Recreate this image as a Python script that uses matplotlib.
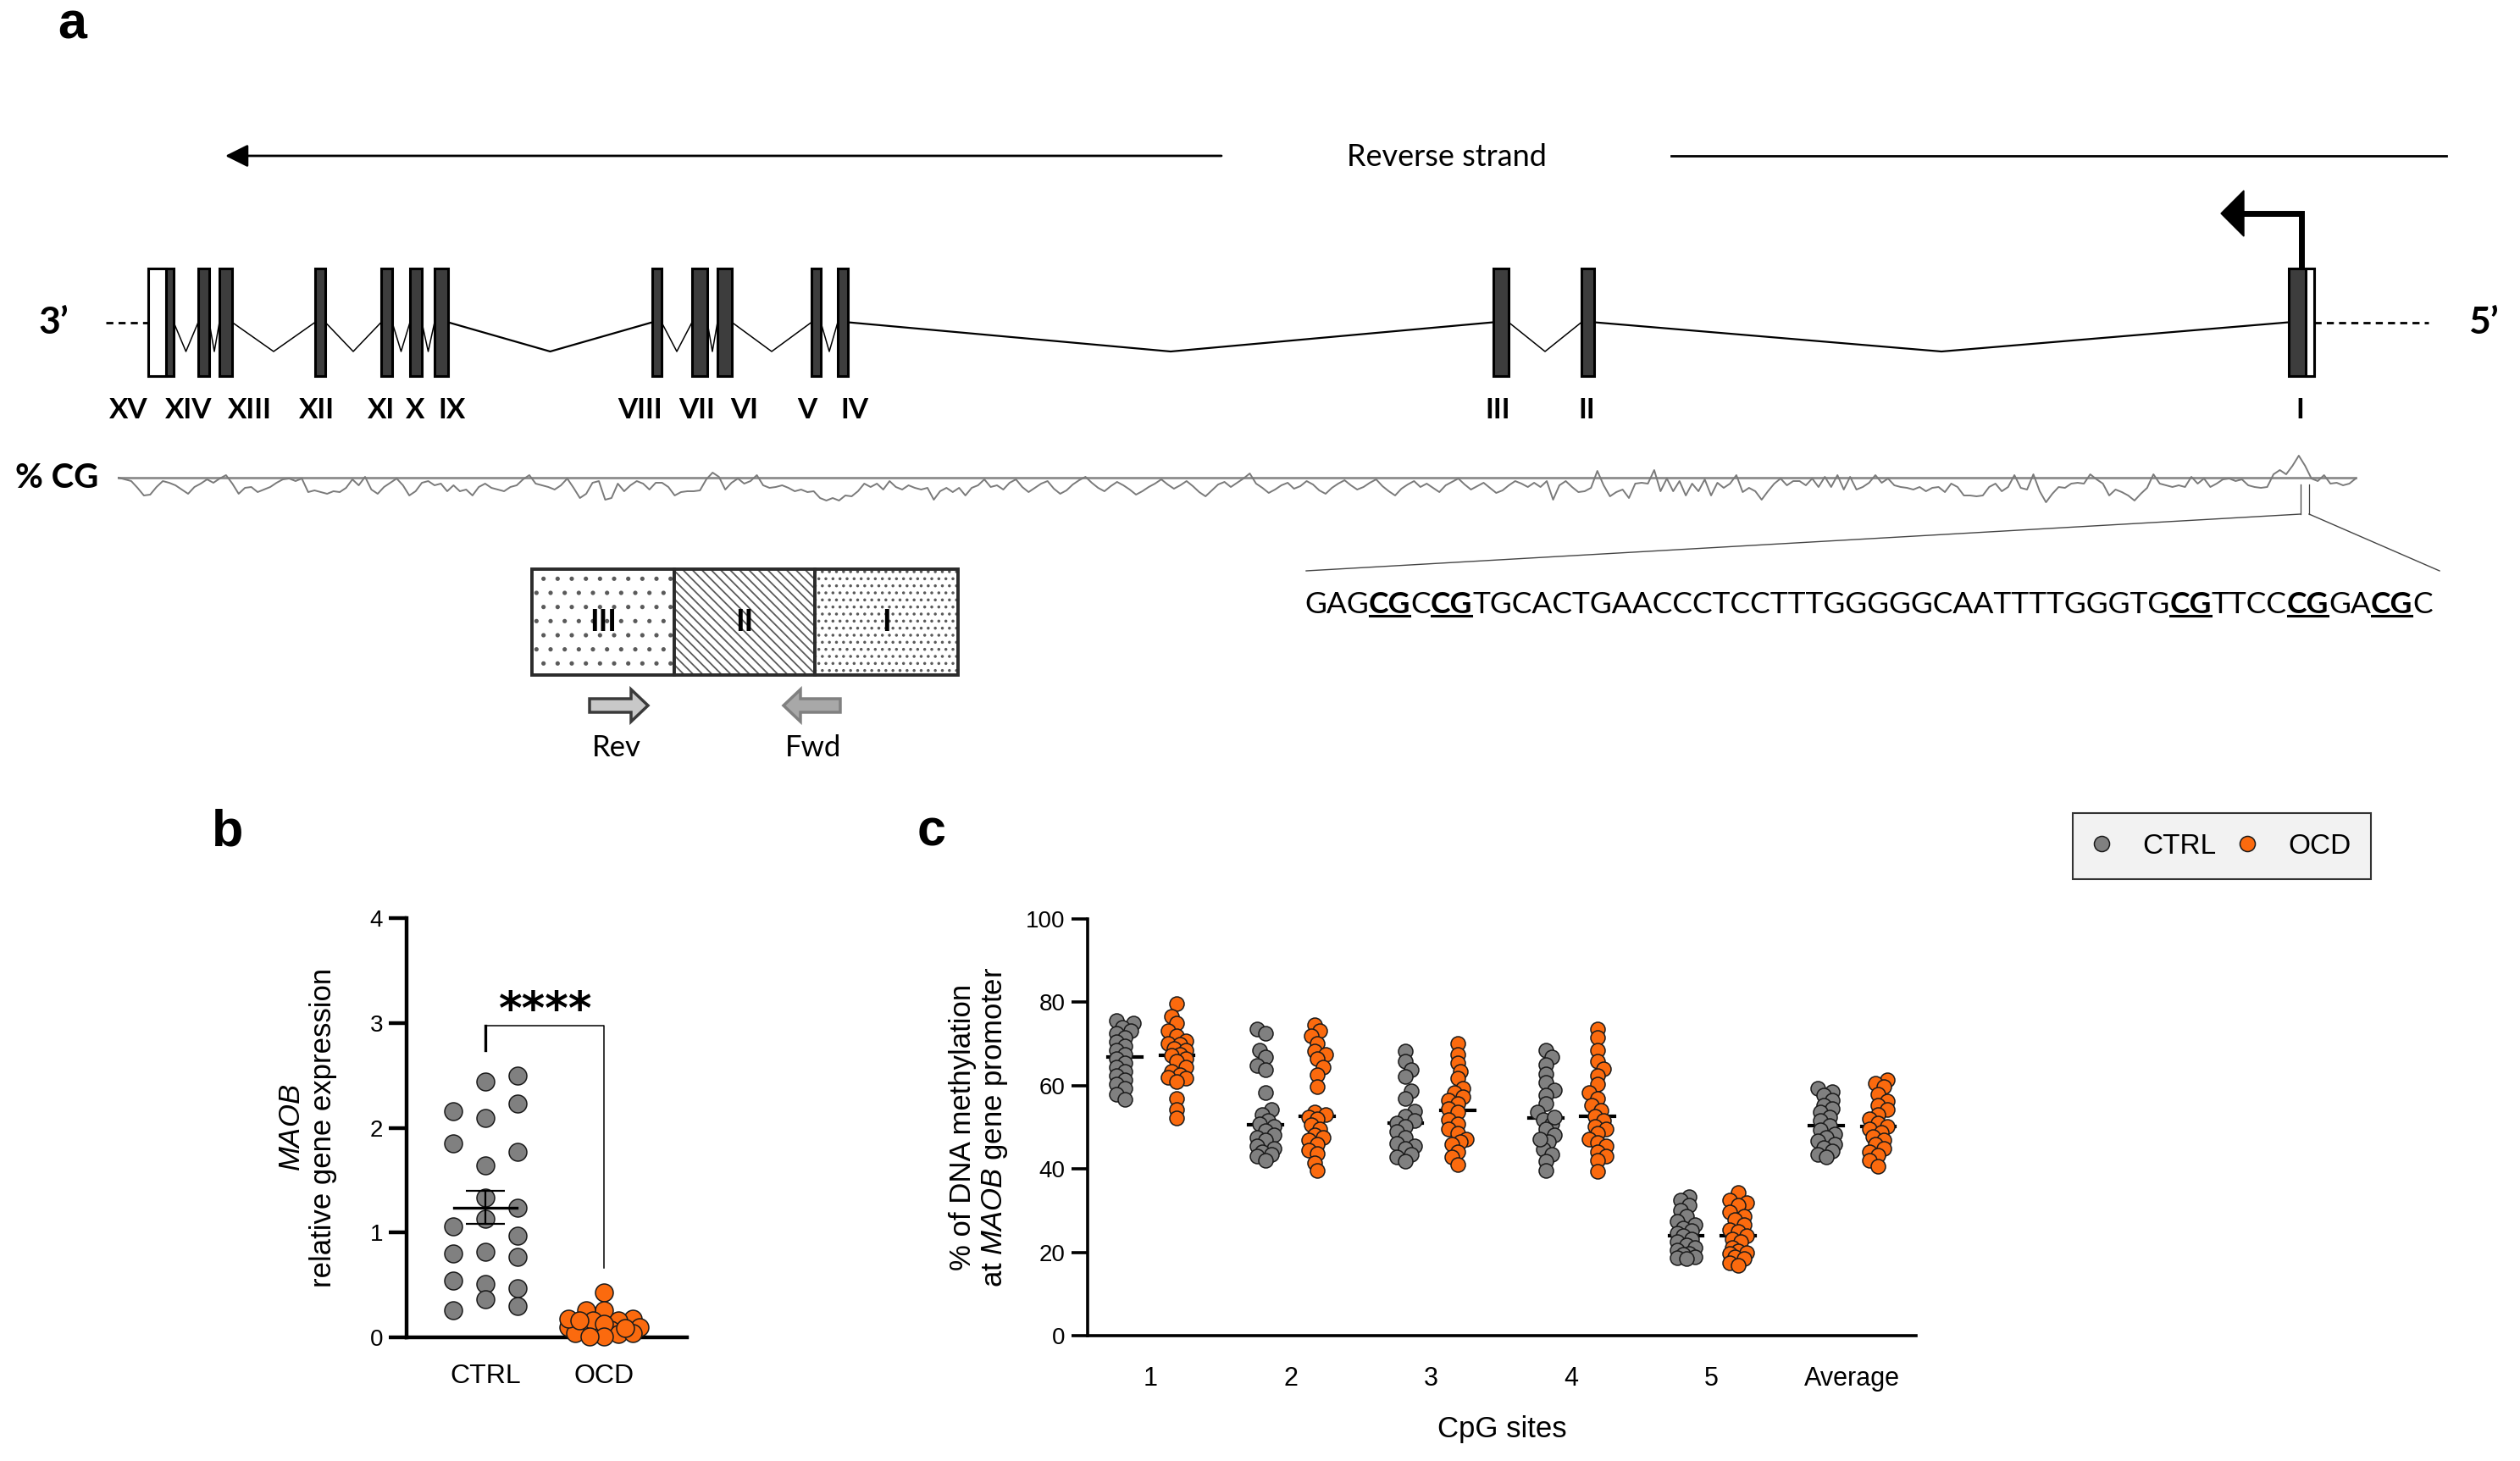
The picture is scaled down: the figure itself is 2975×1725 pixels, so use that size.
import numpy as np
import matplotlib
matplotlib.use("Agg")
import matplotlib.pyplot as plt
from matplotlib.patches import Rectangle, Polygon, FancyArrow
from matplotlib.lines import Line2D
from matplotlib.transforms import IdentityTransform

plt.rcParams["font.family"] = ["Liberation Sans", "DejaVu Sans"]
plt.rcParams["mathtext.fontset"] = "custom"
plt.rcParams["mathtext.rm"] = "Liberation Sans"
plt.rcParams["mathtext.it"] = "Liberation Sans:italic"
plt.rcParams["hatch.linewidth"] = 1.3

NARROW = ["Liberation Sans Narrow", "Lato", "DejaVu Sans"]
HUMAN = ["Lato", "DejaVu Sans"]
GREY = "#808080"
ORANGE = "#fb6a0e"

# ---------------- data ----------------
# gene model (diagram units along the reverse strand, 3' -> 5')
exon_names = ["XV", "XIV", "XIII", "XII", "XI", "X", "IX", "VIII", "VII", "VI",
              "V", "IV", "III", "II", "I"]
exon_left = [175, 234, 259, 372, 450, 484, 513, 770, 817, 847, 958, 989, 1763, 1867, 2702]
exon_right = [205, 247, 274, 384, 463, 498, 529, 781, 835, 864, 969, 1001, 1781, 1882, 2732]
utr_left = [175, 2722]
utr_right = [196, 2732]

# %CG profile, deviation from the track baseline
cg_profile_3p = [0, -2, -4, -12, -21, -20, -11, -4, -6, -9, -14, -19, -11, -7, -2, -6, -1, 3, -7, -19,
                 -12, -11, -17, -14, -11, -6, -2, -1, -4, -1, -17, -15, -17, -19, -16, -17, -12, -2, -9, 1,
                 -14, -19, -11, -6, -1, -9, -21, -16, -6, -4, -9, -7, -16, -9, -16, -14, -21, -11, -7, -12,
                 -14, -16, -11, -9, -2, 3, -7, -9, -11, -14, -9, -1, -12, -24, -19, -6, -4, -26, -24, -7,
                 -16, -9, -4, -7, -14, -6, -6, -11, -21, -17, -16, -16, -15, -2, 6, 1, -14, -6, -1, -7,
                 -4, 3, -9, -12, -11, -9, -12, -16, -14, -17, -16, -24, -27, -24, -27, -21, -22, -16, -7, -11,
                 -7, -14, -4, -11, -14, -9, -12, -14, -12, -26, -16, -12, -17, -12, -21, -12, -9, -2, -11]
cg_profile_mid = [-9, -14, -6, -2, -11, -17, -12, -7, -4, -13, -19, -15, -8, -3, 1, -6, -12, -16, -10, -5,
                  -9, -14, -20, -16, -11, -7, -2, -8, -13, -9, -4, -10, -17, -22, -15, -8, -5, -11, -6, -1,
                  5, -7, -12, -18, -14, -9, -6, -13, -10, -4, -8, -15, -19, -12, -7, -3, -9, -14, -11, -6,
                  -2, -10, -16, -21, -13, -8, -4, -11, -7, -12, -17, -9, -5, -1, -8, -14, -10, -6, -12, -18,
                  -15, -9, -4, -7, -11, -6]
cg_profile_5p = [-11, -4, -26, -9, -4, -11, -17, -16, -12, 8, -9, -22, -17, -14, -24, -7, -6, -7, 9, -16,
                 -1, -16, -4, -21, -7, -16, -2, -21, -6, -12, -7, 3, -17, -12, -16, -26, -16, -7, -1, -9,
                 -4, -4, -9, -1, -11, 1, -11, 3, -14, 1, -14, -11, -6, 3, -6, -1, -9, -11, -12, -14,
                 -11, -16, -12, -11, -17, -7, -11, -21, -21, -22, -21, -11, -7, -16, -11, 3, -12, -14, 4, -16,
                 -29, -19, -11, -12, -7, -6, -7, 4, -2, -7, -21, -14, -17, -21, -27, -19, -12, 4, -7, -9,
                 -11, -9, -11, 1, -7, -1, -11, -7, -2, -1, -4, -2, -9, -11, -12, -11, 4, 9, 4, 14,
                 26, 14, -1, -4, 3, -7, -6, -9, -7, -1]

sequence = "GAGCGCCGTGCACTGAACCCTCCTTTGGGGGCAATTTTGGGTGCGTTCCCGGACGC"
region_names = ["III", "II", "I"]
region_edges = [628, 796, 962, 1131]
primer_names = ["Rev", "Fwd"]

# panel b: MAOB relative expression
groups = ["CTRL", "OCD"]
ctrl_expr = [2.16, 1.85, 1.06, 0.80, 0.54, 0.26,
             2.44, 2.09, 1.64, 1.33, 1.13, 0.82, 0.51, 0.36,
             2.50, 2.23, 1.77, 1.24, 0.97, 0.77, 0.47, 0.30]
ocd_expr = [0.43, 0.26, 0.26, 0.18, 0.16, 0.10, 0.09, 0.06, 0.10, 0.16,
            0.04, 0.07, 0.03, 0.04, 0.09, 0.13, 0.18, 0.16, 0.01, 0.01]

# panel c: % methylation per CpG site
cpg_sites = ["1", "2", "3", "4", "5", "Average"]
meth_ctrl = [
    [75.6, 74.9, 73.9, 73.2, 72.5, 71.5, 70.5, 69.5, 68.5, 67.5, 66.4, 65.4, 64.4, 63.4, 62.4,
     61.4, 60.4, 59.4, 58.0, 56.7],
    [73.5, 72.5, 68.5, 66.8, 64.8, 63.8, 58.3, 54.3, 53.0, 51.6, 50.9, 50.2, 49.2, 48.2, 47.5,
     46.9, 45.5, 45.0, 44.2, 43.5, 43.1, 42.1],
    [68.2, 65.8, 63.8, 62.1, 58.7, 57.0, 53.9, 52.6, 51.6, 51.0, 50.3, 48.9, 47.6, 46.2, 45.5,
     44.9, 43.5, 42.8, 41.8],
    [68.5, 66.8, 65.1, 62.8, 60.7, 59.0, 57.7, 55.6, 53.6, 51.9, 50.9, 49.5, 48.2, 46.5, 44.8,
     43.5, 41.8, 39.7, 52.5, 47.2],
    [33.3, 32.5, 31.3, 30.0, 28.6, 27.5, 26.6, 25.9, 25.2, 24.5, 23.9, 23.2, 22.5, 21.8, 21.2,
     20.5, 19.8, 19.5, 19.0, 18.8, 18.4],
    [59.3, 58.5, 57.7, 56.5, 55.3, 54.4, 53.6, 52.5, 51.6, 50.5, 49.3, 48.4, 47.6, 46.8, 46.0,
     45.2, 44.3, 43.5, 42.9],
]
meth_ocd = [
    [79.7, 76.6, 74.9, 73.2, 71.9, 70.8, 70.2, 69.9, 69.0, 68.5, 67.5, 67.2, 66.4, 65.8, 64.4,
     63.4, 62.7, 62.0, 61.7, 61.0, 57.0, 54.3, 52.2],
    [74.6, 73.2, 71.9, 70.2, 68.2, 67.5, 66.4, 64.4, 62.7, 59.7, 53.6, 53.0, 52.4, 52.0, 50.6,
     49.6, 48.2, 47.5, 46.9, 45.9, 44.6, 43.6, 41.5, 39.6],
    [70.2, 67.5, 65.5, 63.5, 61.7, 59.4, 58.3, 57.3, 56.5, 55.6, 54.5, 53.6, 51.9, 50.9, 49.5,
     48.5, 47.2, 46.5, 45.9, 44.2, 42.8, 41.1],
    [73.6, 71.6, 68.5, 65.8, 64.1, 62.4, 60.4, 58.3, 57.0, 55.3, 54.0, 52.6, 51.6, 50.3, 49.5,
     48.5, 47.2, 46.3, 45.5, 44.2, 43.0, 42.1, 39.4],
    [34.3, 32.6, 31.9, 31.3, 29.6, 28.7, 27.9, 26.6, 25.5, 24.9, 23.9, 23.2, 22.5, 21.2, 20.4,
     20.0, 19.8, 19.0, 18.4, 17.5, 16.8],
    [61.4, 60.5, 59.7, 58.0, 56.3, 55.2, 54.3, 53.1, 52.0, 51.1, 50.3, 49.5, 48.7, 47.8, 47.0,
     46.0, 45.0, 44.1, 43.3, 42.0, 40.7],
]

# ---------------- layout ----------------
W, H = 2975, 1725
EX_TOP, EX_BOT = 317, 444
EX_MID = (EX_TOP + EX_BOT) / 2
INTRON_DIP = 415
LABEL_Y = 485
label_nudge = [-38, -18, 28, -4, -6, -1, 12, -20, -3, 23, -11, 14, -4, -1, -2]
ctrl_lane = [-1] * 6 + [0] * 8 + [1] * 8
CG_Y, CG_X0, CG_X1 = 564, 140, 2781
STRAND_Y = 184
SEQ_X0, SEQ_X1, SEQ_BASE = 1540, 2877, 723
BOX_TOP, BOX_BOT = 672, 797


def swarm_offsets(ax, xc, vals, diam_px, min_frac, max_px):
    """Simple deterministic beeswarm, returns x offsets in data units."""
    vals = np.asarray(vals, float)
    ys = ax.transData.transform(np.column_stack([np.full(len(vals), xc), vals]))[:, 1]
    step = diam_px * 0.2
    need = (min_frac * diam_px) ** 2
    placed = []
    off = np.zeros(len(vals))
    for n, i in enumerate(np.argsort(vals)):
        sgn = 1 if n % 2 == 0 else -1
        cands = [0.0]
        for k in range(1, int(max_px / step) + 1):
            cands += [sgn * k * step, -sgn * k * step]
        best, alt, best_d = None, 0.0, -1
        for c in cands:
            d = min([(c - a) ** 2 + (ys[i] - b) ** 2 for a, b in placed], default=1e9)
            if d >= need:
                best = c
                break
            if d > best_d:
                best_d, alt = d, c
        if best is None:
            best = alt
        off[i] = best
        placed.append((best, ys[i]))
    unit = ax.transData.transform((1, 0))[0] - ax.transData.transform((0, 0))[0]
    return off / unit


fig = plt.figure(figsize=(W / 100, H / 100), dpi=100)

# ---------------- panel a: gene diagram (canvas units) ----------------
ax_a = fig.add_axes([0, 0, 1, 1])
ax_a.set_xlim(0, W)
ax_a.set_ylim(H, 0)
ax_a.axis("off")

# reverse strand arrow
ax_a.annotate("", xy=(266, STRAND_Y), xytext=(1442, STRAND_Y),
              arrowprops=dict(arrowstyle="-|>,head_length=0.4,head_width=0.2", lw=2,
                              color="black", mutation_scale=41, shrinkA=0, shrinkB=0))
ax_a.plot([1973, 2888], [STRAND_Y, STRAND_Y], color="black", lw=2)
ax_a.text(1708, STRAND_Y + 2, "Reverse strand", ha="center", va="center", fontsize=26, family=HUMAN)

# introns
for i in range(len(exon_left) - 1):
    x0, x1 = exon_right[i], exon_left[i + 1]
    lw = 1.6 if x1 - x0 > 150 else 1.1
    ax_a.plot([x0, (x0 + x1) / 2, x1], [EX_MID, INTRON_DIP, EX_MID], color="black", lw=lw)

# flanking dashed lines
ax_a.plot([125, exon_left[0]], [EX_MID, EX_MID], color="black", lw=2, ls=(0, (3, 2.2)))
ax_a.plot([exon_right[-1], 2867], [EX_MID, EX_MID], color="black", lw=2, ls=(0, (3, 2.2)))
ax_a.text(63, EX_MID, "3\u2019", ha="center", va="center", fontsize=32, fontweight="bold", family=HUMAN)
ax_a.text(2932, EX_MID, "5\u2019", ha="center", va="center", fontsize=32, fontweight="bold", family=HUMAN)

# exons
for name, l, r, nud in zip(exon_names, exon_left, exon_right, label_nudge):
    ax_a.add_patch(Rectangle((l, EX_TOP), r - l, EX_BOT - EX_TOP, fc="#3d3d3d", ec="black", lw=2.2, zorder=3))
    ax_a.text((l + r) / 2 + nud, LABEL_Y, name, ha="center", va="center", fontsize=24,
              fontweight="bold", family=NARROW)
for l, r in zip(utr_left, utr_right):
    ax_a.add_patch(Rectangle((l, EX_TOP), r - l, EX_BOT - EX_TOP, fc="white", ec="black", lw=2.2, zorder=4))

# transcription start arrow
tss = (exon_left[-1] + exon_right[-1]) / 2
ax_a.plot([tss, tss, tss - 70], [EX_TOP, 252, 252], color="black", lw=5,
          solid_joinstyle="miter", solid_capstyle="butt", zorder=2)
ax_a.add_patch(Polygon([[tss - 68, 225], [tss - 95, 252], [tss - 68, 279]], closed=True,
                       fc="black", ec="black", lw=1))

# %CG track
cg = np.array(cg_profile_3p + cg_profile_mid + cg_profile_5p, float)
cg_x = np.linspace(CG_X0, CG_X1, len(cg))
ax_a.plot([CG_X0, CG_X1], [CG_Y, CG_Y], color="#8c8c8c", lw=2)
ax_a.plot(cg_x, CG_Y - cg, color="#7a7a7a", lw=1.4)
ax_a.text(18, CG_Y, "% CG", ha="left", va="center", fontsize=29, fontweight="bold", family=HUMAN)

# zoom lines to the sequence
ax_a.plot([2716, 2716], [572, 607], color="#444444", lw=0.9)
ax_a.plot([2726, 2726], [572, 607], color="#444444", lw=0.9)
ax_a.plot([2716, 1542], [607, 674], color="#444444", lw=1.0)
ax_a.plot([2726, 2880], [607, 674], color="#444444", lw=1.0)

# promoter sequence with CpG sites in bold + underlined
parts = []
i = 0
while i < len(sequence):
    if sequence.startswith("CG", i):
        parts.append(("CG", True))
        i += 2
    else:
        j = i
        while j < len(sequence) and not sequence.startswith("CG", j):
            j += 1
        parts.append((sequence[i:j], False))
        i = j

seq_fs = 28
seq_texts = []
prev = None
for txt, bold in parts:
    kw = dict(fontsize=seq_fs, fontweight="bold" if bold else "normal", family=NARROW,
              ha="left", va="bottom")
    if prev is None:
        t = ax_a.text(SEQ_X0, SEQ_BASE + 0.21 * seq_fs * 100 / 72, txt, **kw)
    else:
        t = ax_a.annotate(txt, xy=(1, 0), xycoords=prev, **kw)
    seq_texts.append((t, bold))
    prev = t

fig.canvas.draw()
width = seq_texts[-1][0].get_window_extent().x1 - seq_texts[0][0].get_window_extent().x0
seq_fs = seq_fs * (SEQ_X1 - SEQ_X0) / width
for t, _ in seq_texts:
    t.set_fontsize(seq_fs)
seq_texts[0][0].set_position((SEQ_X0, SEQ_BASE + 0.21 * seq_fs * 100 / 72))

# amplicon regions
hatches = [".", "\\\\\\", ".."]
for k, name in enumerate(region_names):
    x0, x1 = region_edges[k], region_edges[k + 1]
    ax_a.add_patch(Rectangle((x0, BOX_TOP), x1 - x0, BOX_BOT - BOX_TOP, fc="white",
                             ec="#5a5a5a", lw=0, hatch=hatches[k]))
    ax_a.add_patch(Rectangle((x0, BOX_TOP), x1 - x0, BOX_BOT - BOX_TOP, fc="none",
                             ec="#2b2b2b", lw=2.8))
    ax_a.text((x0 + x1) / 2, (BOX_TOP + BOX_BOT) / 2, name, ha="center", va="center",
              fontsize=26, fontweight="bold", family=NARROW)

# primers
ax_a.add_patch(FancyArrow(696, 833, 69, 0, width=16, head_width=38, head_length=20,
                          length_includes_head=True, fc="#c8c8c8", ec="#3a3a3a", lw=2.5))
ax_a.add_patch(FancyArrow(992, 833, -67, 0, width=16, head_width=38, head_length=20,
                          length_includes_head=True, fc="#a8a8a8", ec="#808080", lw=2.5))
ax_a.text(728, 883, primer_names[0], ha="center", va="center", fontsize=25, family=HUMAN)
ax_a.text(960, 883, primer_names[1], ha="center", va="center", fontsize=25, family=HUMAN)

# panel letters
for letter, (x, y) in zip("abc", [(85, 30), (269, 983), (1100, 983)]):
    ax_a.text(x, y, letter, ha="center", va="center", fontsize=44, fontweight="bold")

# ---------------- panel b ----------------
ax_b = fig.add_axes([480 / W, (H - 1579) / H, 331 / W, 495 / H])
ax_b.set_facecolor("none")
ax_b.set_ylim(0, 4)
ax_b.set_xlim(-0.664, 1.70)
for s in ["top", "right"]:
    ax_b.spines[s].set_visible(False)
for s in ["left", "bottom"]:
    ax_b.spines[s].set_linewidth(3.2)
ax_b.set_yticks([0, 1, 2, 3, 4])
ax_b.tick_params(axis="y", length=15, width=3.2, labelsize=20, pad=5)
ax_b.set_xticks([0, 1], groups)
ax_b.tick_params(axis="x", length=0, labelsize=23, pad=22)
ax_b.set_ylabel("$\\mathit{MAOB}$\nrelative gene expression", fontsize=25, labelpad=28, linespacing=1.15)

ctrl = np.array(ctrl_expr)
ocd = np.array(ocd_expr)
ax_b.scatter(np.array(ctrl_lane) * 0.27, ctrl, s=228, c=GREY, edgecolors="#1a1a1a",
             linewidths=1.1, zorder=3, clip_on=False)
ocd_x = 1 + swarm_offsets(ax_b, 1, ocd, 21, 0.72, 44)
ax_b.scatter(ocd_x, ocd, s=228, c=ORANGE, edgecolors="#1a1a1a", linewidths=1.1, zorder=3, clip_on=False)

for k, vals in enumerate([ctrl, ocd]):
    m = vals.mean()
    sem = vals.std(ddof=1) / np.sqrt(len(vals))
    z = 4 if k == 0 else 2
    ax_b.plot([k - 0.265, k + 0.265], [m, m], color="black", lw=2.4, zorder=z)
    ax_b.errorbar(k, m, yerr=sem, fmt="none", ecolor="black", elinewidth=1.6, capsize=16.5,
                  capthick=1.6, zorder=z)

ax_b.plot([0, 0, 1, 1], [2.74, 2.97, 2.97, 0.66], color="black", lw=1.1)
ax_b.plot([0, 0], [2.74, 2.97], color="black", lw=2.4)
ax_b.text(0.51, 2.99, "****", ha="center", va="baseline", fontsize=38, fontweight="bold",
          family="DejaVu Sans")

# ---------------- panel c ----------------
ax_c = fig.add_axes([1284 / W, (H - 1577) / H, 978 / W, 492 / H])
ax_c.set_facecolor("none")
ax_c.set_ylim(0, 100)
ax_c.set_xlim(0.553, 6.459)
for s in ["top", "right"]:
    ax_c.spines[s].set_visible(False)
for s in ["left", "bottom"]:
    ax_c.spines[s].set_linewidth(2.6)
ax_c.set_yticks(range(0, 101, 20))
ax_c.tick_params(axis="y", length=14, width=2.6, labelsize=20, pad=5)
ax_c.set_xticks(range(1, len(cpg_sites) + 1), cpg_sites)
ax_c.tick_params(axis="x", length=0, labelsize=22, pad=26)
ax_c.set_xlabel("CpG sites", fontsize=25, labelpad=20)
ax_c.set_ylabel("% of DNA methylation\nat $\\mathit{MAOB}$ gene promoter", fontsize=25,
                labelpad=14, linespacing=1.15)

for k in range(len(cpg_sites)):
    for vals, dx, col in [(meth_ctrl[k], -0.18, GREY), (meth_ocd[k], 0.19, ORANGE)]:
        vals = np.array(vals)
        xc = k + 1 + dx
        med = np.median(vals)
        ax_c.plot([xc - 0.12, xc + 0.12], [med, med], color="black", lw=3, zorder=2)
        xs = xc + swarm_offsets(ax_c, xc, vals, 17, 0.55, 12)
        ax_c.scatter(xs, vals, s=150, c=col, edgecolors="#1a1a1a", linewidths=1.1, zorder=3)

# legend
handles = [Line2D([], [], marker="o", ls="", ms=13, mfc=GREY, mec="#1a1a1a", mew=1.1),
           Line2D([], [], marker="o", ls="", ms=13, mfc=ORANGE, mec="#1a1a1a", mew=1.1)]
leg = fig.legend(handles, groups, loc="center", bbox_to_anchor=(2623 / W, 1 - 999 / H), ncol=2,
                 fontsize=24, frameon=True, fancybox=False, edgecolor="#333333",
                 facecolor="#f2f2f2", framealpha=1, handlelength=0.6, handletextpad=1.15,
                 columnspacing=0.8, borderpad=0.7)
leg.get_frame().set_linewidth(1.5)

# underline the CpG dinucleotides
fig.canvas.draw()
em = seq_fs * 100 / 72
for t, bold in seq_texts:
    if bold:
        bb = t.get_window_extent()
        y = bb.y0 + 0.21 * em - 4
        fig.add_artist(Line2D([bb.x0 + 1, bb.x1 - 1], [y, y], transform=IdentityTransform(),
                              color="black", lw=2.2))

fig.savefig("out.png", dpi=100)
